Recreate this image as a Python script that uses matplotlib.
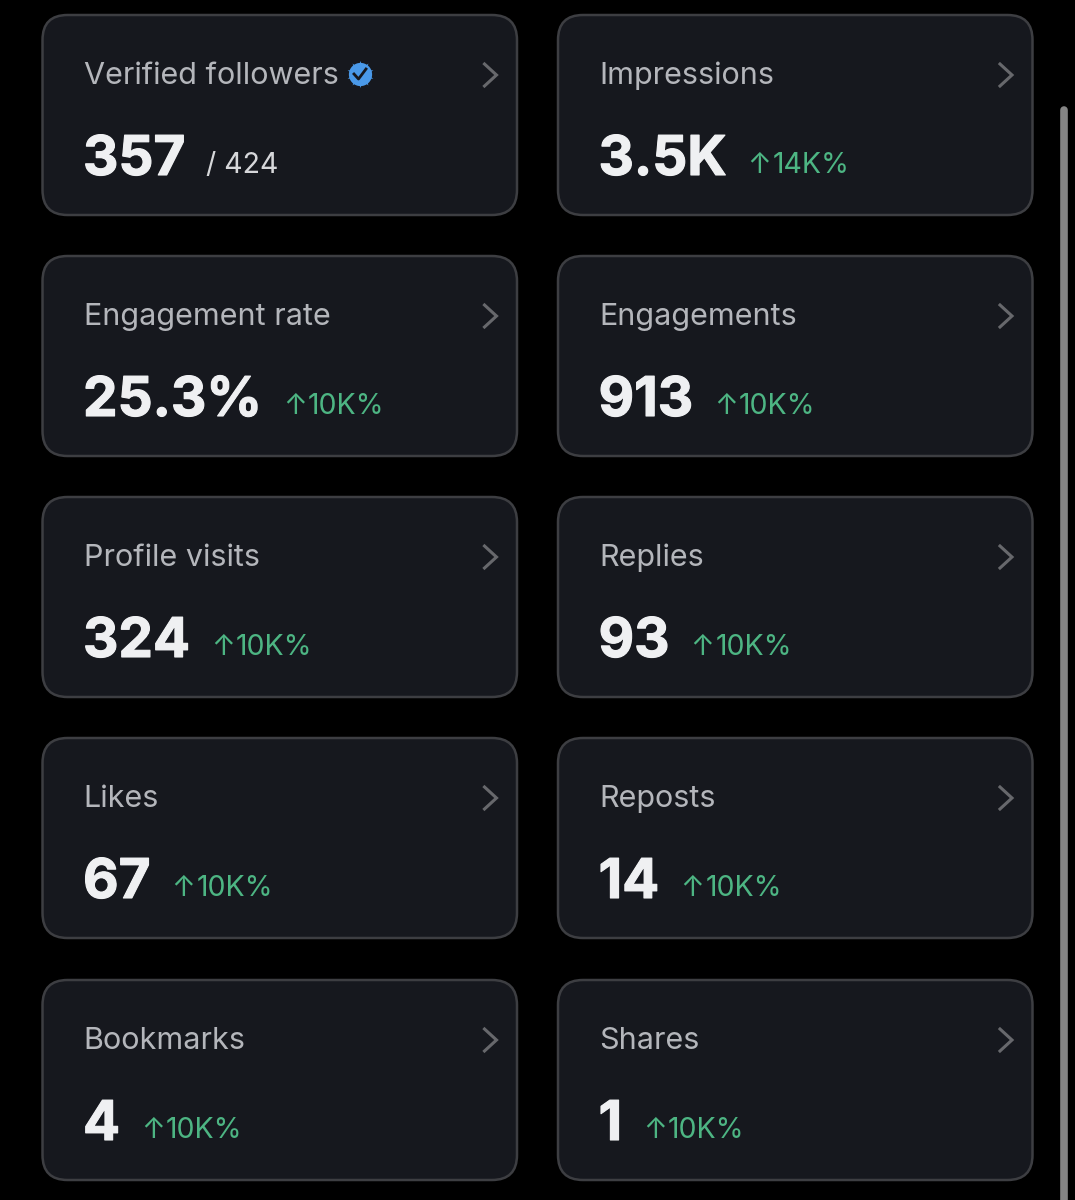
import matplotlib
matplotlib.use("Agg")
import matplotlib.pyplot as plt
import matplotlib.patheffects as pe
from matplotlib.patches import FancyBboxPatch

plt.rcParams["font.family"] = ["Inter", "DejaVu Sans"]

labels = ["Verified followers", "Impressions", "Engagement rate", "Engagements", "Profile visits",
          "Replies", "Likes", "Reposts", "Bookmarks", "Shares"]
values = ["357", "3.5K", "25.3%", "913", "324", "93", "67", "14", "4", "1"]
deltas = ["/ 424", "14K%", "10K%", "10K%", "10K%", "10K%", "10K%", "10K%", "10K%", "10K%"]

card_lefts = [42.5, 558]
card_tops = [15, 256, 497, 738, 980]
CARD_W, CARD_H = 474.5, 200

fig = plt.figure(figsize=(10.75, 12), dpi=100, facecolor="#000000")
ax = fig.add_axes([0, 0, 1, 1])
ax.set_xlim(0, 1075)
ax.set_ylim(1200, 0)
ax.axis("off")


def draw_badge(x, y):
    ax.scatter([x], [y], s=380, marker=(10, 1, 0), color="#4a99e9", linewidths=0, zorder=3)
    ax.scatter([x], [y], s=280, marker="o", color="#4a99e9", linewidths=0, zorder=3)
    ax.plot([x - 6, x - 1.5, x + 6], [y, y + 5, y - 5], color="#16181f", lw=2, zorder=4)


renderer = fig.canvas.get_renderer()
for i, label in enumerate(labels):
    left = card_lefts[i % 2]
    top = card_tops[i // 2]
    ax.add_patch(FancyBboxPatch((left + 25, top + 25), CARD_W - 50, CARD_H - 50,
                                boxstyle="round,pad=25,rounding_size=25",
                                facecolor="#16181e", edgecolor="#3d3e42", linewidth=1.8))
    ax.text(left + 41, top + 69, label, color="#b4b6bb", fontsize=22, va="baseline", ha="left")
    value_text = ax.text(left + 40.5, top + 160, values[i], color="#eff0f2", fontsize=39.5,
                         fontweight="bold", va="baseline", ha="left",
                         path_effects=[pe.withStroke(linewidth=0.8, foreground="#eff0f2")])
    end = value_text.get_window_extent(renderer).x1
    if i == 0:
        ax.text(end + 21, top + 158, deltas[i], color="#d6d7da", fontsize=20.5, va="baseline", ha="left")
    else:
        ax.text(end + 21, top + 158, "↑", color="#4db583", fontsize=20.5, va="baseline", ha="left")
        ax.text(end + 46, top + 158, deltas[i], color="#4db583", fontsize=20.5, va="baseline", ha="left")
    # chevron
    ax.plot([left + 442, left + 454, left + 442], [top + 49, top + 60, top + 71],
            color="#67686c", lw=2.2, solid_joinstyle="miter")

draw_badge(360, 74)
ax.plot([1063.5, 1063.5], [110, 1200], color="#858585", lw=5.5, solid_capstyle="round")

fig.savefig("out.png", dpi=100, facecolor=fig.get_facecolor())
